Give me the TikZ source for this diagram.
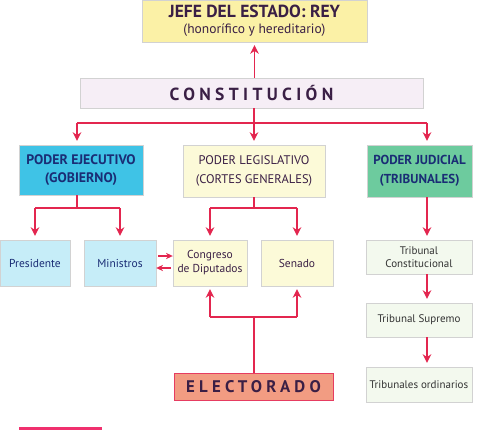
\documentclass[tikz,border=0pt]{standalone}
\usepackage{fontspec}
\setmainfont{PT Sans}
\newfontfamily\espaciada[LetterSpace=25]{PT Sans}
\usetikzlibrary{arrows.meta}

\definecolor{rojo}{HTML}{E3264F}
\definecolor{amarillo}{HTML}{FBF1A6}
\definecolor{crema}{HTML}{FCFAD8}
\definecolor{rosado}{HTML}{F6EEF6}
\definecolor{cian}{HTML}{3FC3E6}
\definecolor{celeste}{HTML}{C6EDF8}
\definecolor{verde}{HTML}{6DCB9E}
\definecolor{verdoso}{HTML}{F3F9EE}
\definecolor{salmon}{HTML}{F29C82}
\definecolor{morado}{HTML}{3A1F45}
\definecolor{marino}{HTML}{1A2D75}
\definecolor{barra}{HTML}{F0306E}

\tikzset{
  caja/.style={rectangle, draw=gray!35, inner sep=0pt, align=center},
  linea/.style={rojo, line width=1.4pt},
  flecha/.style={rojo, line width=1.4pt, -{Stealth[width=3mm, length=3mm]}},
  flechita/.style={rojo, line width=1.2pt, -{Stealth[width=2.2mm, length=2.4mm]}},
}

\begin{document}
\begin{tikzpicture}[x=1pt, y=-1pt]
    \useasboundingbox (0,0) rectangle (497,430);

    % top
    \node [caja, fill=amarillo, text=morado, minimum width=225pt, minimum height=42pt,
           font=\fontsize{13.5}{16}\selectfont] (jefe) at (254.5,21)
          {{\bfseries\fontsize{17.5}{16}\selectfont JEFE DEL ESTADO: REY}\\ (honorífico y hereditario)};
    \node [caja, fill=rosado, text=morado, minimum width=343pt, minimum height=30pt,
           font=\espaciada\bfseries\fontsize{17.5}{18}\selectfont] (const) at (251.5,93) {CONSTITUCIÓN};

    % poderes
    \node [caja, fill=cian, text=marino, minimum width=124pt, minimum height=50pt,
           font=\bfseries\fontsize{13.8}{18}\selectfont] (ejec) at (81,170) {PODER EJECUTIVO\\(GOBIERNO)};
    \node [caja, fill=crema, text=morado, minimum width=142pt, minimum height=52pt,
           font=\fontsize{12.5}{19}\selectfont] (legis) at (254,171) {PODER LEGISLATIVO\\(CORTES GENERALES)};
    \node [caja, fill=verde, text=marino, minimum width=105pt, minimum height=52pt,
           font=\bfseries\fontsize{13}{19}\selectfont] (judic) at (419.5,171) {PODER JUDICIAL\\(TRIBUNALES)};

    % organos
    \node [caja, fill=celeste, text=marino, minimum width=70pt, minimum height=46pt,
           font=\fontsize{11.5}{14}\selectfont] (pres) at (35,263) {Presidente};
    \node [caja, fill=celeste, text=marino, minimum width=72pt, minimum height=46pt,
           font=\fontsize{11.5}{14}\selectfont] (minis) at (120,263) {Ministros};
    \node [caja, fill=crema, text=morado, minimum width=74pt, minimum height=46pt,
           font=\fontsize{11.5}{14}\selectfont] (congr) at (210,263) {Congreso\\de Diputados};
    \node [caja, fill=crema, text=morado, minimum width=72pt, minimum height=46pt,
           font=\fontsize{11.5}{14}\selectfont] (senado) at (297,263) {Senado};
    \node [caja, fill=verdoso, text=black!80, minimum width=106pt, minimum height=34pt,
           font=\fontsize{11}{13}\selectfont] (tconst) at (419,257) {Tribunal\\Constitucional};
    \node [caja, fill=verdoso, text=black!80, minimum width=106pt, minimum height=34pt,
           font=\fontsize{11}{13}\selectfont] (tsupr) at (419,320) {Tribunal Supremo};
    \node [caja, fill=verdoso, text=black!80, minimum width=106pt, minimum height=35pt,
           font=\fontsize{11}{13}\selectfont] (tord) at (419,384.5) {Tribunales ordinarios};
    \node [caja, draw=rojo!90, fill=salmon, text=morado, minimum width=159pt, minimum height=27pt,
           font=\espaciada\bfseries\fontsize{16.8}{18}\selectfont] (elect) at (253.5,386.5) {ELECTORADO};

    \path[fill=barra] (19,427) rectangle (102,432);

    % constitucion
    \coordinate (c1) at (254,123);
    \coordinate (c2) at (77,123);
    \coordinate (c3) at (427,123);
    \draw [flecha, shorten >=3pt] (jefe.south |- const.north) -- (jefe.south);
    \draw [linea] (const.south -| c1) -- (c1);
    \draw [linea] (c2) -- (c3);
    \draw [flecha, shorten >=4pt] (c2) -- (c2 |- ejec.north);
    \draw [flecha, shorten >=4pt] (c1) -- (c1 |- legis.north);
    \draw [flecha, shorten >=4pt] (c3) -- (c3 |- judic.north);

    % ejecutivo
    \coordinate (e1) at (77,208);
    \draw [linea] (e1 |- ejec.south) -- (e1);
    \draw [linea] (pres |- e1) -- (minis |- e1);
    \draw [flecha, shorten >=4pt] (pres |- e1) -- (pres.north);
    \draw [flecha, shorten >=4pt] (minis |- e1) -- (minis.north);
    \draw [flechita, shorten <=2pt] ([yshift=7pt]minis.east) -- ([yshift=7pt]congr.west);
    \draw [flechita, shorten <=2pt] ([yshift=-5pt]congr.west) -- ([yshift=-5pt]minis.east);

    % legislativo
    \coordinate (l1) at (254,208);
    \draw [linea] (l1 |- legis.south) -- (l1);
    \draw [linea] (congr |- l1) -- (senado |- l1);
    \draw [flecha, shorten >=4pt] (congr |- l1) -- (congr.north);
    \draw [flecha, shorten >=4pt] (senado |- l1) -- (senado.north);

    % electorado
    \coordinate (v1) at (254,317);
    \draw [linea] (v1 |- elect.north) -- (v1);
    \draw [linea] (congr |- v1) -- (senado |- v1);
    \draw [flecha, shorten >=3pt] (congr |- v1) -- (congr.south);
    \draw [flecha, shorten >=3pt] (senado |- v1) -- (senado.south);

    % judicial
    \draw [flecha, shorten >=4pt] (c3 |- judic.south) -- (c3 |- tconst.north);
    \draw [flecha, shorten >=4pt] (c3 |- tconst.south) -- (c3 |- tsupr.north);
    \draw [flecha, shorten >=4pt] (c3 |- tsupr.south) -- (c3 |- tord.north);
  \end{tikzpicture}
\end{document}
